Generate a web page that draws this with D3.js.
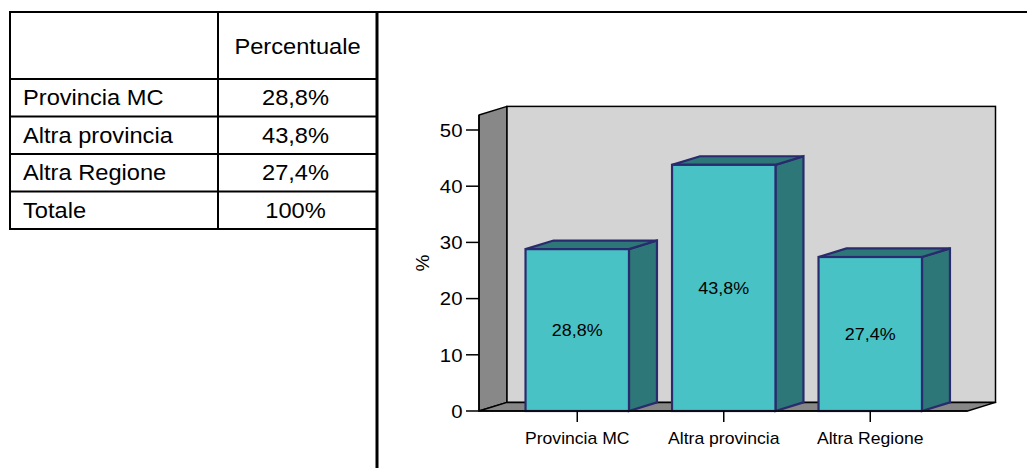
<!DOCTYPE html>
<html>
<head>
<meta charset="utf-8">
<script src="https://cdn.jsdelivr.net/npm/d3@7"></script>
<style>
  html, body { margin: 0; padding: 0; background: #fff; }
  svg { display: block; font-family: "Liberation Sans", Arial, sans-serif; }
</style>
</head>
<body>
<svg id="chart" width="1027" height="468"></svg>
<script>
// Data
const categories = ["Provincia MC", "Altra provincia", "Altra Regione"];
const values = [28.8, 43.8, 27.4];
const tableHeader = "Percentuale";
const tableRowLabels = ["Provincia MC", "Altra provincia", "Altra Regione", "Totale"];
const tableRowValues = [28.8, 43.8, 27.4, 100];
const yTicks = [0, 10, 20, 30, 40, 50];
const yLabel = "%";

const fmt = v => (Number.isInteger(v) ? String(v) : d3.format(".1f")(v).replace(".", ",")) + "%";

const svg = d3.select("#chart");
const SX = 1.1; // horizontal text stretch

function stretchedText(g, x, y, str, size, anchor) {
  return g.append("text")
    .attr("transform", `translate(${x},${y}) scale(${SX},1)`)
    .attr("text-anchor", anchor || "start")
    .attr("font-size", size)
    .attr("fill", "#000")
    .text(str);
}

// ---------- Table ----------
const table = svg.append("g");
const tLeft = 10, tMid = 218, tRight = 377, tTop = 12, tHeadBottom = 79, rowH = 37.5;
const rowEdges = tableRowLabels.map((_, i) => tHeadBottom + i * rowH);
const tBottom = tHeadBottom + tableRowLabels.length * rowH;

// frame and grid lines
table.append("rect")
  .attr("x", tLeft).attr("y", tTop)
  .attr("width", tRight - tLeft).attr("height", tBottom - tTop)
  .attr("fill", "none").attr("stroke", "#000").attr("stroke-width", 2);
table.append("line")
  .attr("x1", tMid).attr("x2", tMid).attr("y1", tTop).attr("y2", tBottom)
  .attr("stroke", "#000").attr("stroke-width", 2);
table.selectAll("line.row").data(rowEdges).join("line")
  .attr("class", "row")
  .attr("x1", tLeft).attr("x2", tRight)
  .attr("y1", d => d).attr("y2", d => d)
  .attr("stroke", "#000").attr("stroke-width", 2);

// page rules: long top rule and column divider down the page
svg.append("line")
  .attr("x1", tLeft).attr("x2", 1027).attr("y1", tTop).attr("y2", tTop)
  .attr("stroke", "#000").attr("stroke-width", 2);
svg.append("line")
  .attr("x1", tRight).attr("x2", tRight).attr("y1", tTop).attr("y2", 468)
  .attr("stroke", "#000").attr("stroke-width", 3);

const tableFont = 21.5;
stretchedText(table, (tMid + tRight) / 2, 54, tableHeader, tableFont, "middle");
tableRowLabels.forEach((lab, i) => {
  const base = rowEdges[i] + 26;
  stretchedText(table, 23, base, lab, tableFont, "start");
  stretchedText(table, (tMid + tRight) / 2 - 2, base, fmt(tableRowValues[i]), tableFont, "middle");
});

// ---------- 3D column chart ----------
const chart = svg.append("g");
const floorFrontLeft = 479, floorFrontRight = 967.5;
const depthX = 28, depthY = -8.6;

const y = d3.scaleLinear().domain([0, 50]).range([411, 130]);
const wallTopY = y(50) - 15;

const x = d3.scaleBand()
  .domain(categories)
  .range([504, 943.5])
  .paddingInner(0.294)
  .paddingOuter(0.147);

const y0 = y(0);

// side wall (left)
chart.append("polygon")
  .attr("points", [
    [floorFrontLeft, y0], [floorFrontLeft, wallTopY],
    [floorFrontLeft + depthX, wallTopY + depthY], [floorFrontLeft + depthX, y0 + depthY]
  ].map(p => p.join(",")).join(" "))
  .attr("fill", "#888888").attr("stroke", "#000").attr("stroke-width", 1.5)
  .attr("stroke-linejoin", "round");

// back wall
chart.append("rect")
  .attr("x", floorFrontLeft + depthX).attr("y", wallTopY + depthY)
  .attr("width", floorFrontRight - floorFrontLeft)
  .attr("height", y0 - wallTopY)
  .attr("fill", "#d4d4d4").attr("stroke", "#000").attr("stroke-width", 1.5);

// floor
chart.append("polygon")
  .attr("points", [
    [floorFrontLeft, y0], [floorFrontLeft + depthX, y0 + depthY],
    [floorFrontRight + depthX, y0 + depthY], [floorFrontRight, y0]
  ].map(p => p.join(",")).join(" "))
  .attr("fill", "#878787").attr("stroke", "#000").attr("stroke-width", 1.5)
  .attr("stroke-linejoin", "round");

// bars
const frontColor = "#48c2c5", darkColor = "#2e7778", barStroke = "#2a2a6e";
const bars = chart.selectAll("g.bar").data(categories.map((c, i) => ({ c, v: values[i] })))
  .join("g").attr("class", "bar");

bars.append("polygon") // side face
  .attr("points", d => {
    const x1 = x(d.c) + x.bandwidth(), yv = y(d.v);
    return [[x1, yv], [x1 + depthX, yv + depthY], [x1 + depthX, y0 + depthY], [x1, y0]]
      .map(p => p.join(",")).join(" ");
  })
  .attr("fill", darkColor).attr("stroke", barStroke).attr("stroke-width", 2.2)
  .attr("stroke-linejoin", "miter");

bars.append("polygon") // top face
  .attr("points", d => {
    const x0 = x(d.c), x1 = x0 + x.bandwidth(), yv = y(d.v);
    return [[x0, yv], [x0 + depthX, yv + depthY], [x1 + depthX, yv + depthY], [x1, yv]]
      .map(p => p.join(",")).join(" ");
  })
  .attr("fill", darkColor).attr("stroke", barStroke).attr("stroke-width", 2.2)
  .attr("stroke-linejoin", "miter");

bars.append("rect") // front face
  .attr("x", d => x(d.c)).attr("y", d => y(d.v))
  .attr("width", x.bandwidth()).attr("height", d => y0 - y(d.v))
  .attr("fill", frontColor).attr("stroke", barStroke).attr("stroke-width", 2.2);

bars.each(function (d) {
  stretchedText(d3.select(this), x(d.c) + x.bandwidth() / 2, (y(d.v) + y0) / 2 + 6,
    fmt(d.v), 16.3, "middle");
});

// y axis (front edge of the side wall)
const yAxis = chart.append("g");
yAxis.append("line")
  .attr("x1", floorFrontLeft).attr("x2", floorFrontLeft)
  .attr("y1", y0).attr("y2", wallTopY)
  .attr("stroke", "#000").attr("stroke-width", 1.5);
yTicks.forEach(t => {
  yAxis.append("line")
    .attr("x1", floorFrontLeft - 13).attr("x2", floorFrontLeft)
    .attr("y1", y(t)).attr("y2", y(t))
    .attr("stroke", "#000").attr("stroke-width", 1.5);
  stretchedText(yAxis, floorFrontLeft - 16.5, y(t) + 6.7, String(t), 18.5, "end");
});

// y axis title
chart.append("text")
  .attr("transform", `translate(429,263) rotate(-90)`)
  .attr("text-anchor", "middle")
  .attr("font-size", 19)
  .text(yLabel);

// x axis line, ticks and category labels
chart.append("line")
  .attr("x1", floorFrontLeft).attr("x2", floorFrontRight)
  .attr("y1", y0).attr("y2", y0)
  .attr("stroke", "#000").attr("stroke-width", 1.5);
categories.forEach(c => {
  const cx = x(c) + x.bandwidth() / 2;
  chart.append("line")
    .attr("x1", cx).attr("x2", cx).attr("y1", y0).attr("y2", y0 + 11)
    .attr("stroke", "#000").attr("stroke-width", 1.5);
  stretchedText(chart, cx, 443.5, c, 16, "middle");
});
</script>
</body>
</html>
